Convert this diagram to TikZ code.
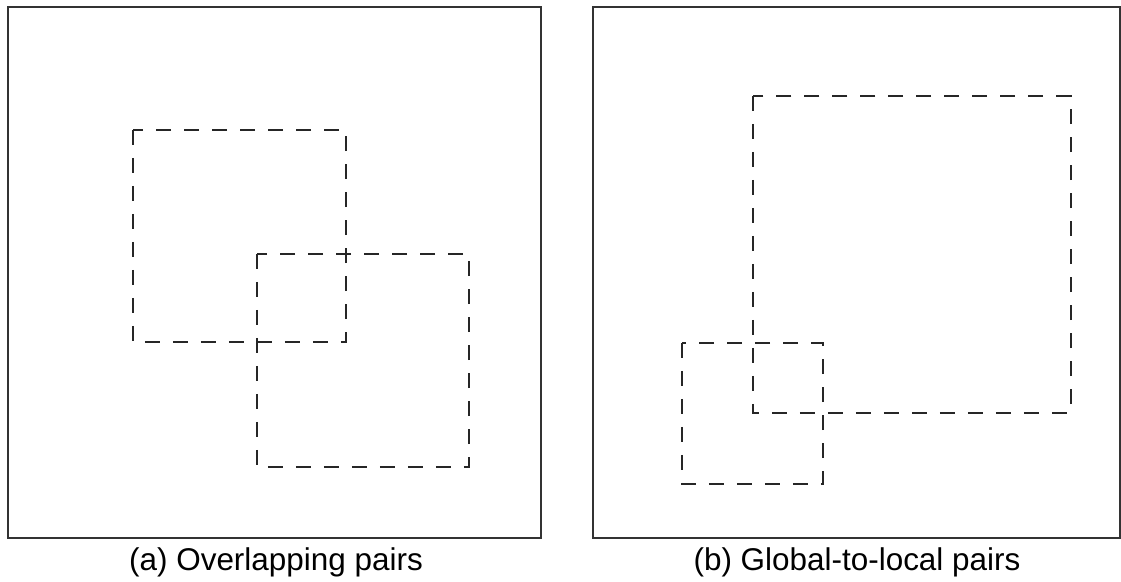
\documentclass[tikz,border=0pt]{standalone}
\usepackage{fontspec}
\setmainfont{Liberation Sans}
\usetikzlibrary{positioning}

\begin{document}
\begin{tikzpicture}[
        x=0.02cm, y=-0.02cm,
        frame/.style={line width=1.1pt, black!80},
        window/.style={line width=0.85pt, black!85, dash pattern=on 0.3cm off 0.26cm},
        caption/.style={font=\fontsize{17.9}{20}\selectfont, inner sep=0pt},
    ]
        \useasboundingbox (0,0) rectangle (1121,581);

        % Left panel
        \draw[frame] (8,7) coordinate(LA) rectangle (541,538) coordinate(LB);
        \draw[window] (133,130) coordinate(P1) rectangle (346,342);
        \draw[window] (257,254) coordinate(P2) rectangle (469,467);
        \node[caption] (capA) at (276,562) {(a) Overlapping pairs};

        % Right panel
        \draw[frame] (593,7) coordinate(RA) rectangle (1120,538) coordinate(RB);
        \draw[window] (753,96) coordinate(G) rectangle (1071,413);
        \draw[window] (682,343) coordinate(L) rectangle (823,484);
        \node[caption] (capB) at (857,562) {(b) Global-to-local pairs};
    \end{tikzpicture}
\end{document}
